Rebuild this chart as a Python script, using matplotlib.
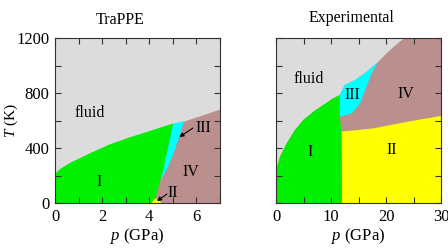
import matplotlib
matplotlib.use("Agg")
import matplotlib.pyplot as plt
from matplotlib.ticker import MultipleLocator

plt.rcParams['font.family'] = ['Liberation Serif', 'DejaVu Serif']
plt.rcParams['mathtext.fontset'] = 'custom'
plt.rcParams['mathtext.it'] = 'Liberation Serif:italic'
plt.rcParams['mathtext.rm'] = 'Liberation Serif'

C_FLUID = '#dcdcdc'
C_I = '#00f000'
C_II = '#ffff00'
C_III = '#00ffff'
C_IV = '#bc8f8f'

# ---- TraPPE (left) boundaries ----
trappe_melt_p = [0, 0.15, 0.3, 0.64, 1.48, 2.33, 3.18, 4.03, 4.8, 5.01, 5.47, 7.0]
trappe_melt_T = [210, 238, 256, 292, 361, 427, 478, 524, 567, 577, 596, 684]
trappe_I_III_p = [5.01, 4.77, 4.62, 4.45]
trappe_I_III_T = [577, 385, 264, 155]
trappe_III_IV_p = [5.47, 5.32, 5.08, 4.8, 4.45]
trappe_III_IV_T = [596, 507, 385, 264, 155]
trappe_I_IV_p = [4.45, 4.3, 4.21]
trappe_I_IV_T = [155, 60, 0]
trappe_II_p = [4.08, 4.25, 4.55]
trappe_II_T = [0, 34, 0]

# ---- Experimental (right) boundaries ----
exp_melt_p = [0, 0.12, 0.73, 1.95, 3.45, 4.97, 6.8, 8.6, 10.4, 11.6]
exp_melt_T = [235, 250, 337, 434, 531, 604, 664, 713, 761, 785]
exp_fl_III_p = [11.6, 12.5, 14.4, 16.5, 18.3, 18.6]
exp_fl_III_T = [785, 858, 895, 955, 1016, 1028]
exp_fl_IV_p = [18.6, 18.9, 20.4, 22.5, 23.4]
exp_fl_IV_T = [1028, 1040, 1100, 1173, 1200]
exp_III_IV_p = [18.6, 17.4, 16.2, 15.3, 13.8, 11.6]
exp_III_IV_T = [1028, 943, 822, 725, 652, 628]
exp_I_right_p = [11.6, 11.6, 11.9, 12.0]
exp_I_right_T = [785, 628, 519, 0]
exp_IV_II_p = [11.9, 17.8, 23.9, 30.0]
exp_IV_II_T = [519, 543, 591, 633]

fig = plt.figure(figsize=(4.48, 2.52), dpi=100)
W, H = 448, 252
axL = fig.add_axes([55 / W, (H - 203) / H, 165 / W, 165 / H])
axR = fig.add_axes([276 / W, (H - 203) / H, 165 / W, 165 / H])

# Left panel
ax = axL
ax.set_facecolor(C_FLUID)
ax.fill_between(trappe_melt_p, 0, trappe_melt_T, color=C_IV, lw=0)
cy_p = [5.01, 5.47] + trappe_III_IV_p[1:] + trappe_I_III_p[::-1][1:]
cy_T = [577, 596] + trappe_III_IV_T[1:] + trappe_I_III_T[::-1][1:]
ax.fill(cy_p, cy_T, color=C_III, lw=0)
n = trappe_melt_p.index(5.01)
gp = trappe_melt_p[:n + 1] + trappe_I_III_p[1:] + trappe_I_IV_p[1:] + [0]
gT = trappe_melt_T[:n + 1] + trappe_I_III_T[1:] + trappe_I_IV_T[1:] + [0]
ax.fill(gp, gT, color=C_I, lw=0)
ax.fill(trappe_II_p, trappe_II_T, color=C_II, lw=0)
ax.set_xlim(0, 7)
ax.set_ylim(0, 1200)
ax.xaxis.set_major_locator(MultipleLocator(2))
ax.xaxis.set_minor_locator(MultipleLocator(1))
ax.yaxis.set_major_locator(MultipleLocator(400))
ax.yaxis.set_minor_locator(MultipleLocator(200))
ax.set_ylabel(r'$T$ (K)', fontsize=11)
ax.yaxis.set_label_coords((20 - 55) / 165, 0.5)
ax.text(1.48, 655, 'fluid', fontsize=11.5, ha='center', va='center')
ax.text(1.86, 153, 'I', fontsize=11.5, ha='center', va='center')
ax.text(5.75, 227, 'IV', fontsize=11.5, ha='center', va='center')
ax.text(6.3, 545, 'III', fontsize=11.5, ha='center', va='center')
ax.text(5.0, 75, 'II', fontsize=11.5, ha='center', va='center')
ax.annotate('', xy=(5.28, 480), xytext=(5.85, 545),
            arrowprops=dict(arrowstyle='-|>', color='black', lw=0.8,
                            mutation_scale=6, shrinkA=0, shrinkB=0))
ax.annotate('', xy=(4.33, 14), xytext=(4.75, 65),
            arrowprops=dict(arrowstyle='-|>', color='black', lw=0.8,
                            mutation_scale=6, shrinkA=0, shrinkB=0))

# Right panel
ax = axR
ax.set_facecolor(C_FLUID)
bp = exp_melt_p + exp_fl_III_p[1:] + exp_fl_IV_p[1:] + [30, 30, 0]
bT = exp_melt_T + exp_fl_III_T[1:] + exp_fl_IV_T[1:] + [1200, 0, 0]
ax.fill(bp, bT, color=C_IV, lw=0)
ax.fill(exp_IV_II_p + [30, 12.0], exp_IV_II_T + [0, 0], color=C_II, lw=0)
ax.fill(exp_fl_III_p + exp_III_IV_p[1:], exp_fl_III_T + exp_III_IV_T[1:],
        color=C_III, lw=0)
ax.fill(exp_melt_p + exp_I_right_p[1:] + [0], exp_melt_T + exp_I_right_T[1:] + [0],
        color=C_I, lw=0)
ax.set_xlim(0, 30)
ax.set_ylim(0, 1200)
ax.xaxis.set_major_locator(MultipleLocator(10))
ax.xaxis.set_minor_locator(MultipleLocator(5))
ax.yaxis.set_major_locator(MultipleLocator(400))
ax.yaxis.set_minor_locator(MultipleLocator(200))
ax.set_yticklabels([])
ax.text(6.0, 902, 'fluid', fontsize=11.5, ha='center', va='center')
ax.text(13.9, 785, 'III', fontsize=11.5, ha='center', va='center')
ax.text(23.6, 790, 'IV', fontsize=11.5, ha='center', va='center')
ax.text(6.2, 373, 'I', fontsize=11.5, ha='center', va='center')
ax.text(21.1, 385, 'II', fontsize=11.5, ha='center', va='center')

for ax in (axL, axR):
    ax.set_xlabel(r'$p$ (GPa)', fontsize=12, labelpad=1)
    ax.tick_params(which='both', direction='in', top=True, right=True,
                   length=4, width=0.8, color='#333333', labelsize=12, pad=4)
    for s in ax.spines.values():
        s.set_color('#333333')
        s.set_linewidth(0.8)

fig.text(120 / W, 1 - 20 / H, 'TraPPE', fontsize=11.5, ha='center', va='center')
fig.text(352 / W, 1 - 18 / H, 'Experimental', fontsize=11.5, ha='center', va='center')

fig.savefig('out.png', dpi=100)
